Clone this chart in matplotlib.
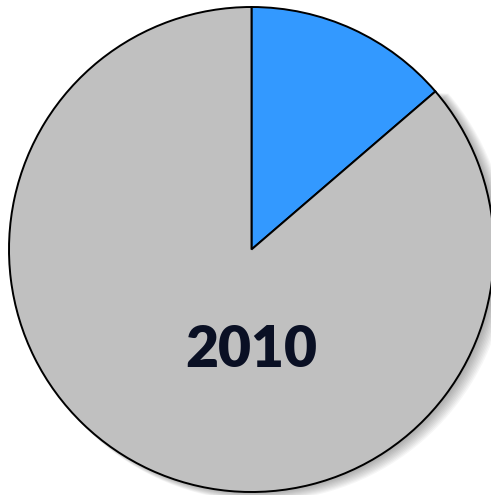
import numpy as np
import matplotlib
matplotlib.use('Agg')
import matplotlib.pyplot as plt
from matplotlib.patches import Wedge

# slice shares (percent)
shares = [13.7, 86.3]
colors = ['#3399FF', '#C0C0C0']
year_label = '2010'

W, H = 491, 495
cx, cy, r = 251.5, 249.5, 242.5   # pie centre and radius in pixels

fig = plt.figure(figsize=(W / 100, H / 100), dpi=100)
ax = fig.add_axes([0, 0, 1, 1])
ax.axis('off')

# soft shadow under the grey slice
start_deg = 90 - 360 * shares[0] / 100
end_deg = 90 - 360
for k in range(10):
    off = 0.006 + k * 0.003
    sh = Wedge((off * 1.2, -off * 0.6), 1.0 + k * 0.002, end_deg, start_deg,
               facecolor='black', alpha=0.035, linewidth=0, zorder=0)
    ax.add_patch(sh)

wedges, _ = ax.pie(shares, colors=colors, startangle=90, counterclock=False,
                   radius=1.0,
                   wedgeprops=dict(edgecolor='black', linewidth=1.4))
for w in wedges:
    w.set_zorder(1)
ax.set_aspect('auto')
ax.set_xlim(-cx / r, (W - cx) / r)
ax.set_ylim(-(H - cy) / r, cy / r)

ax.text(0, -0.414, year_label, ha='center', va='center',
        fontsize=41, fontweight='heavy', family=['Lato', 'DejaVu Sans'],
        color='#0A1024', zorder=3)

fig.savefig('out.png', dpi=100)
